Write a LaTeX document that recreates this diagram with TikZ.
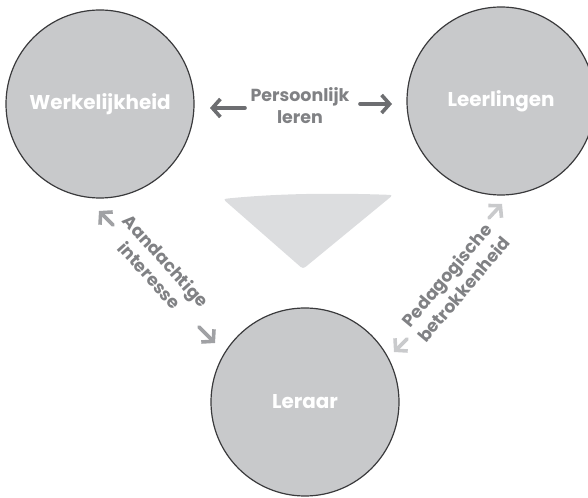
\documentclass[tikz,border=0pt]{standalone}
\usepackage{fontspec}
\setmainfont{Poppins}
\usetikzlibrary{arrows.meta}
\definecolor{circfill}{HTML}{C8C9CB}
\definecolor{circline}{HTML}{3A3A3C}
\definecolor{trifill}{HTML}{DCDDDF}
\definecolor{labelgray}{HTML}{808184}
\definecolor{arrowdark}{HTML}{6D6E71}
\definecolor{arrowmid}{HTML}{A0A1A4}
\definecolor{arrowlight}{HTML}{C9CACC}
\tikzset{
  pole/.style={draw=circline,line width=1.2bp,fill=circfill,circle,minimum size=188bp,inner sep=0pt,text=white,font=\bfseries\fontsize{20}{24}\selectfont},
  relation/.style={text=labelgray,align=center,font=\bfseries\fontsize{17.5}{22}\selectfont},
  sketcharrow/.style={line width=3.6bp,line cap=round,line join=round,-{Straight Barb[length=8bp,width=18bp,line width=3.6bp]}}
}
\begin{document}
\begin{tikzpicture}
  \useasboundingbox (0bp,0bp) rectangle (588bp,498bp);
  %%
  \fill[trifill,rounded corners=3bp] (223bp,299bp) .. controls (280bp,305bp) and (340bp,305bp) .. (393bp,303bp) -- (303bp,229bp) -- cycle;
  \node (Werkelijkheid) at (100bp,394bp) [pole] {Werkelijkheid};
  \node (Leerlingen) at (501bp,397bp) [pole] {Leerlingen};
  \node (Leraar) at (305bp,96bp) [pole] {Leraar};
  \node (Persoonlijk) at (300bp,392bp) [relation] {Persoonlijk\\leren};
  \node (Aandachtig) at (158bp,230bp) [relation,rotate=-48] {Aandachtige\\interesse};
  \node (Pedagogisch) at (455bp,216bp) [relation,rotate=50] {Pedagogische\\betrokkenheid};
  %
  \coordinate (pl1) at (245bp,390bp);
  \coordinate (pl2) at (210bp,390bp);
  \coordinate (pr1) at (360bp,394bp);
  \coordinate (pr2) at (392bp,394bp);
  \coordinate (al1) at (113bp,273bp);
  \coordinate (al2) at (99bp,287bp);
  \coordinate (ar1) at (199bp,171bp);
  \coordinate (ar2) at (215bp,155bp);
  \coordinate (bl1) at (489bp,280bp);
  \coordinate (bl2) at (502bp,294bp);
  \coordinate (br1) at (407bp,159bp);
  \coordinate (br2) at (394bp,146bp);
  \draw [sketcharrow,arrowdark] (pl1) -- (pl2);
  \draw [sketcharrow,arrowdark] (pr1) -- (pr2);
  \draw [sketcharrow,arrowmid] (al1) -- (al2);
  \draw [sketcharrow,arrowmid] (ar1) -- (ar2);
  \draw [sketcharrow,arrowlight] (bl1) -- (bl2);
  \draw [sketcharrow,arrowlight] (br1) -- (br2);
  %
\end{tikzpicture}
\end{document}
